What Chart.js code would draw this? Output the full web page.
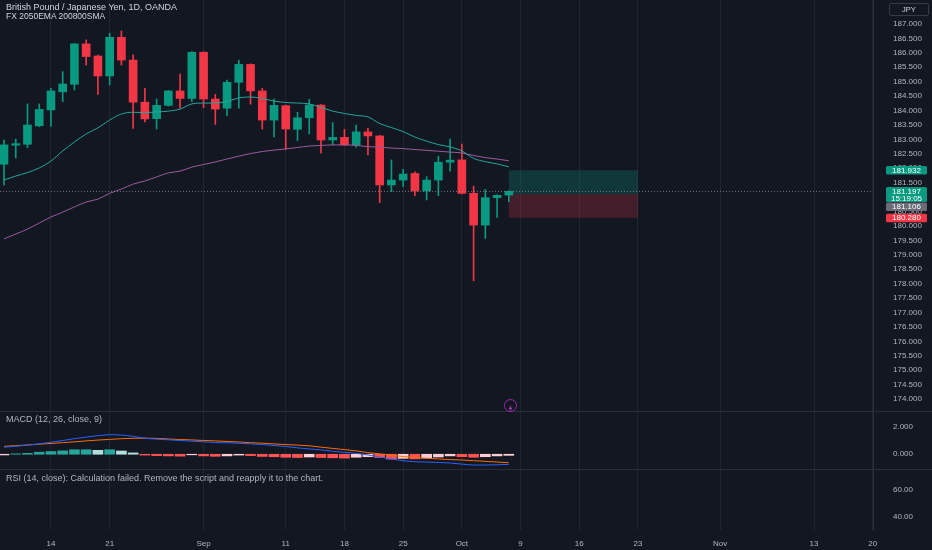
<!DOCTYPE html>
<html>
<head>
<meta charset="utf-8">
<script src="https://cdn.jsdelivr.net/npm/chart.js@4.4.0/dist/chart.umd.min.js"></script>
<style>
    html, body { margin: 0; padding: 0; background: #131722; }
    #wrap { position: relative; width: 932px; height: 550px; overflow: hidden; background: #131722;
            font-family: "Liberation Sans", Arial, sans-serif; }
    .pane { position: absolute; left: 0; }
    .sep { position: absolute; left: 0; width: 932px; height: 1px; background: #2a2e39; }
    .label { position: absolute; left: 6px; font-size: 9px; line-height: 11px; color: #b2b5be; white-space: nowrap; }
    #jpy { position: absolute; left: 889px; top: 3px; width: 38px; height: 11px; border: 1px solid #363a45;
           border-radius: 2px; color: #d1d4dc; font-size: 7.5px; line-height: 11px; text-align: center; }
    #bolt { position: absolute; left: 504px; top: 399px; width: 11px; height: 11px; border: 1px solid #9c27b0;
            border-radius: 50%; }
</style>
</head>
<body>
<div id="wrap">
    <canvas id="mainChart" class="pane" style="top:0" width="932" height="411"></canvas>
    <canvas id="macdChart" class="pane" style="top:411px" width="932" height="58"></canvas>
    <canvas id="rsiChart" class="pane" style="top:469px" width="932" height="81"></canvas>
    <div class="sep" style="top:411px"></div>
    <div class="sep" style="top:469px"></div>

    <div class="label" style="top:2px;color:#d1d4dc">British Pound / Japanese Yen, 1D, OANDA</div>
    <div class="label" style="top:11px;color:#d1d4dc;font-size:8.5px">FX 2050EMA 200800SMA</div>
    <div class="label" style="top:414px">MACD (12, 26, close, 9)</div>
    <div class="label" style="top:473px">RSI (14, close): Calculation failed. Remove the script and reapply it to the chart.</div>
    <div id="jpy">JPY</div>
    <div id="bolt">
        <svg width="11" height="11" viewBox="0 0 11 11"><path d="M6.2 1.8 L3.6 6 L5.4 6 L4.6 9.2 L7.4 4.8 L5.6 4.8 Z" fill="#ab47bc"/></svg>
    </div>
</div>

<script>
// Time axis
const tickIndex = [4, 9, 17, 24, 29, 34, 39, 44, 49, 54, 61, 69, 74];
const tickLabels = ["14", "21", "Sep", "11", "18", "25", "Oct", "9", "16", "23", "Nov", "13", "20"];

// Price axis
const priceTicks = [174.0, 174.5, 175.0, 175.5, 176.0, 176.5, 177.0, 177.5, 178.0, 178.5, 179.0, 179.5,
    180.0, 180.5, 181.0, 181.5, 182.0, 182.5, 183.0, 183.5, 184.0, 184.5, 185.0, 185.5, 186.0, 186.5, 187.0];
const macdTicks = [0, 2];
const rsiTicks = [40, 60];

// Daily candles, Aug 8 -> Oct 6
const openPrices = [182.14, 182.80, 182.83, 183.47, 184.02, 184.65, 184.91, 186.31, 185.89, 185.20,
    186.54, 185.75, 184.29, 183.72, 184.18, 184.68, 184.42, 186.02, 184.40, 184.08,
    184.98, 185.60, 184.68, 183.67, 184.17, 183.35, 183.75, 184.19, 182.98, 183.07,
    182.81, 183.26, 183.12, 181.42, 181.59, 181.82, 181.21, 181.59, 182.21, 182.29,
    181.13, 180.03, 180.98, 181.07];
const highPrices = [182.98, 183.01, 184.23, 184.23, 184.77, 185.35, 186.33, 186.45, 185.92, 186.68,
    186.76, 185.93, 184.77, 184.40, 184.70, 185.26, 186.04, 186.04, 184.56, 185.06,
    185.75, 185.62, 184.77, 184.40, 184.19, 183.94, 184.39, 184.21, 183.58, 183.35,
    183.50, 183.38, 183.14, 182.29, 181.96, 181.88, 181.71, 182.42, 183.01, 182.84,
    181.38, 181.27, 181.08, 181.22];
const lowPrices = [181.42, 182.35, 182.71, 183.44, 183.46, 184.31, 184.71, 185.58, 184.56, 184.89,
    185.58, 183.38, 183.61, 183.36, 184.15, 184.08, 184.31, 184.10, 183.52, 183.82,
    184.08, 184.22, 183.36, 183.09, 182.65, 182.96, 183.19, 182.52, 182.81, 182.79,
    182.73, 182.46, 180.81, 181.19, 181.36, 181.05, 180.90, 181.05, 181.90, 181.11,
    178.10, 179.57, 180.30, 180.84];
const closePrices = [182.81, 182.85, 183.50, 184.04, 184.68, 184.92, 186.31, 185.87, 185.20, 186.54,
    185.75, 184.29, 183.71, 184.18, 184.68, 184.42, 186.02, 184.40, 184.05, 184.98,
    185.60, 184.68, 183.67, 184.18, 183.36, 183.75, 184.19, 182.98, 183.07, 182.81,
    183.26, 183.12, 181.42, 181.59, 181.80, 181.21, 181.59, 182.21, 182.28, 181.13,
    180.03, 180.98, 181.06, 181.197];

// Moving averages
const emaFast = [181.59, 181.73, 181.85, 182.01, 182.25, 182.60, 182.91, 183.19, 183.40, 183.67,
    183.88, 183.94, 183.93, 183.95, 183.98, 184.05, 184.23, 184.26, 184.26, 184.31,
    184.44, 184.47, 184.42, 184.33, 184.28, 184.26, 184.23, 184.11, 183.98, 183.90,
    183.83, 183.78, 183.55, 183.41, 183.27, 183.08, 182.94, 182.82, 182.74, 182.60,
    182.34, 182.23, 182.15, 182.05];
const maSlow = [179.55, 179.72, 179.89, 180.10, 180.31, 180.48, 180.66, 180.83, 180.93, 181.13,
    181.28, 181.45, 181.56, 181.70, 181.84, 181.90, 182.04, 182.13, 182.22, 182.32,
    182.42, 182.51, 182.58, 182.63, 182.67, 182.72, 182.77, 182.79, 182.81, 182.81,
    182.79, 182.75, 182.73, 182.70, 182.68, 182.65, 182.62, 182.59, 182.56, 182.53,
    182.44, 182.37, 182.32, 182.26];

// MACD (12, 26, close, 9)
const macdLine = [0.52, 0.59, 0.67, 0.76, 0.88, 1.01, 1.14, 1.26, 1.36, 1.43,
    1.41, 1.31, 1.18, 1.11, 1.06, 1.01, 0.96, 0.91, 0.86, 0.84,
    0.81, 0.76, 0.71, 0.64, 0.57, 0.47, 0.39, 0.32, 0.22, 0.14,
    0.07, -0.05, -0.20, -0.35, -0.47, -0.55, -0.57, -0.60, -0.64, -0.72,
    -0.79, -0.79, -0.77, -0.74];
const signalLine = [0.58, 0.63, 0.68, 0.74, 0.79, 0.85, 0.91, 0.98, 1.04, 1.09,
    1.14, 1.17, 1.18, 1.16, 1.12, 1.08, 1.05, 1.01, 0.98, 0.94,
    0.90, 0.85, 0.81, 0.76, 0.71, 0.67, 0.62, 0.52, 0.43, 0.34,
    0.25, 0.12, 0.03, -0.07, -0.17, -0.24, -0.29, -0.34, -0.39, -0.42,
    -0.47, -0.52, -0.57, -0.62];
const macdHist = [-0.05, 0.03, 0.07, 0.15, 0.20, 0.25, 0.33, 0.33, 0.29, 0.33,
    0.24, 0.10, -0.06, -0.10, -0.12, -0.14, -0.04, -0.12, -0.15, -0.12,
    -0.06, -0.10, -0.16, -0.18, -0.22, -0.24, -0.20, -0.24, -0.26, -0.28,
    -0.22, -0.18, -0.24, -0.36, -0.30, -0.34, -0.28, -0.20, -0.12, -0.18,
    -0.22, -0.18, -0.12, -0.08];

// Long position tool
const targetPrice = 181.932;
const entryPrice = 181.106;
const stopPrice = 180.280;
const positionFrom = 43;
const positionTo = 54;
const countdown = "15:19:05";

// Layout of the panes
const xMin = -0.34;
const xMax = 74.02;
const axisWidth = 59;
const upColor = "#089981";
const downColor = "#f23645";
const axisText = "#b2b5be";
const axisFont = { family: '"Liberation Sans", Arial, sans-serif', size: 8 };

Chart.defaults.font.family = '"Liberation Sans", Arial, sans-serif';

function timeScale(showLabels) {
    return {
        type: "linear",
        min: xMin,
        max: xMax,
        offset: false,
        afterBuildTicks: scale => {
            scale.ticks = tickIndex.map(v => ({ value: v }));
        },
        ticks: {
            display: showLabels,
            autoSkip: false,
            maxRotation: 0,
            color: axisText,
            font: axisFont,
            padding: 9,
            callback: (value, i) => tickLabels[i]
        },
        grid: { color: "rgba(42,46,57,0.6)", drawTicks: false, offset: false },
        border: { display: false },
        afterFit: scale => {
            scale.height = showLabels ? 20 : 0;
            scale.paddingLeft = 0;
            scale.paddingRight = 0;
        }
    };
}

function valueScale(min, max, tickList, digits) {
    return {
        position: "right",
        min: min,
        max: max,
        afterBuildTicks: scale => {
            scale.ticks = tickList.map(v => ({ value: v }));
        },
        ticks: {
            color: axisText,
            font: axisFont,
            padding: 20,
            crossAlign: "near",
            callback: value => value.toFixed(digits)
        },
        grid: { display: false, drawTicks: false },
        border: { color: "#2a2e39" },
        afterFit: scale => {
            scale.width = axisWidth;
            scale.paddingTop = 0;
            scale.paddingBottom = 0;
        }
    };
}

const baseOptions = {
    responsive: false,
    animation: false,
    events: [],
    layout: { padding: 0 },
    plugins: { legend: { display: false }, tooltip: { enabled: false } }
};

const candleColors = closePrices.map((c, i) => c >= openPrices[i] ? upColor : downColor);

function points(values) {
    return values.map((v, i) => ({ x: i, y: v }));
}

// Position boxes behind the candles, price labels on the axis
const positionPlugin = {
    id: "positionTool",
    beforeDatasetsDraw(chart) {
        const { ctx, scales: { x, y } } = chart;
        const x0 = x.getPixelForValue(positionFrom);
        const x1 = x.getPixelForValue(positionTo);
        const yT = y.getPixelForValue(targetPrice);
        const yE = y.getPixelForValue(entryPrice);
        const yS = y.getPixelForValue(stopPrice);
        ctx.save();
        ctx.fillStyle = "rgba(8,153,129,0.25)";
        ctx.fillRect(x0, yT, x1 - x0, yE - yT);
        ctx.fillStyle = "rgba(242,54,69,0.22)";
        ctx.fillRect(x0, yE, x1 - x0, yS - yE);
        ctx.restore();
    },
    afterDraw(chart) {
        const { ctx, scales: { y } } = chart;
        const last = closePrices[closePrices.length - 1];
        const pills = [
            { value: targetPrice, text: [targetPrice.toFixed(3)], bg: upColor },
            { value: last, text: [last.toFixed(3), countdown], bg: upColor },
            { value: entryPrice, text: [entryPrice.toFixed(3)], bg: "#6a6d78" },
            { value: stopPrice, text: [stopPrice.toFixed(3)], bg: downColor }
        ].sort((a, b) => b.value - a.value);

        const left = chart.chartArea.right + 13;
        const width = 41;
        let prevBottom = -Infinity;
        ctx.save();
        ctx.font = "8px 'Liberation Sans', Arial, sans-serif";
        ctx.textAlign = "center";
        ctx.textBaseline = "middle";
        pills.forEach(p => {
            const yc = y.getPixelForValue(p.value);
            const h = p.text.length > 1 ? 15 : 8.5;
            let top = p.text.length > 1 ? yc - 4.5 : yc - h / 2;
            if (top < prevBottom) top = prevBottom + 0.5;
            ctx.fillStyle = p.bg;
            ctx.beginPath();
            ctx.roundRect(left, top, width, h, 1.5);
            ctx.fill();
            ctx.fillStyle = "#ffffff";
            p.text.forEach((t, k) => {
                ctx.fillText(t, left + width / 2, top + 4.5 + k * 7);
            });
            prevBottom = top + h;
        });
        ctx.restore();
    }
};

new Chart(document.getElementById("mainChart"), {
    type: "bar",
    data: {
        datasets: [
            {
                type: "line",
                data: [{ x: xMin, y: closePrices[closePrices.length - 1] }, { x: xMax, y: closePrices[closePrices.length - 1] }],
                borderColor: "rgba(140,143,154,0.8)",
                borderWidth: 1,
                borderDash: [1, 2],
                pointRadius: 0,
                order: 0
            },
            {
                type: "line",
                data: points(emaFast),
                borderColor: "#26a69a",
                borderWidth: 1,
                pointRadius: 0,
                cubicInterpolationMode: "monotone",
                order: 1
            },
            {
                type: "line",
                data: points(maSlow),
                borderColor: "#9b5a9e",
                borderWidth: 1,
                pointRadius: 0,
                cubicInterpolationMode: "monotone",
                order: 1
            },
            {
                data: openPrices.map((o, i) => ({ x: i, y: [o, closePrices[i]] })),
                backgroundColor: candleColors,
                barThickness: 8,
                minBarLength: 1.5,
                grouped: false,
                order: 2
            },
            {
                data: lowPrices.map((l, i) => ({ x: i, y: [l, highPrices[i]] })),
                backgroundColor: candleColors,
                barThickness: 1,
                grouped: false,
                order: 3
            }
        ]
    },
    options: {
        ...baseOptions,
        scales: {
            x: timeScale(false),
            y: valueScale(173.586, 187.832, priceTicks, 3)
        }
    },
    plugins: [positionPlugin]
});

// MACD pane
const histColors = macdHist.map((h, i) => {
    const prev = i > 0 ? macdHist[i - 1] : h;
    if (h >= 0) return h >= prev ? "#26a69a" : "#b2dfdb";
    return h < prev ? "#ff5252" : "#ffcdd2";
});

new Chart(document.getElementById("macdChart"), {
    type: "bar",
    data: {
        datasets: [
            {
                type: "line",
                data: points(macdLine),
                borderColor: "#2962ff",
                borderWidth: 1,
                pointRadius: 0,
                cubicInterpolationMode: "monotone",
                order: 0
            },
            {
                type: "line",
                data: points(signalLine),
                borderColor: "#ff6d00",
                borderWidth: 1,
                pointRadius: 0,
                cubicInterpolationMode: "monotone",
                order: 0
            },
            {
                data: points(macdHist),
                backgroundColor: histColors,
                barThickness: 10,
                grouped: false,
                order: 1
            }
        ]
    },
    options: {
        ...baseOptions,
        scales: {
            x: timeScale(false),
            y: valueScale(-1.08, 3.17, macdTicks, 3)
        }
    }
});

// RSI pane (no values: the script failed) with the time axis
new Chart(document.getElementById("rsiChart"), {
    type: "line",
    data: { datasets: [{ data: [], pointRadius: 0 }] },
    options: {
        ...baseOptions,
        scales: {
            x: timeScale(true),
            y: valueScale(30.37, 75.56, rsiTicks, 2)
        }
    }
});
</script>
</body>
</html>
